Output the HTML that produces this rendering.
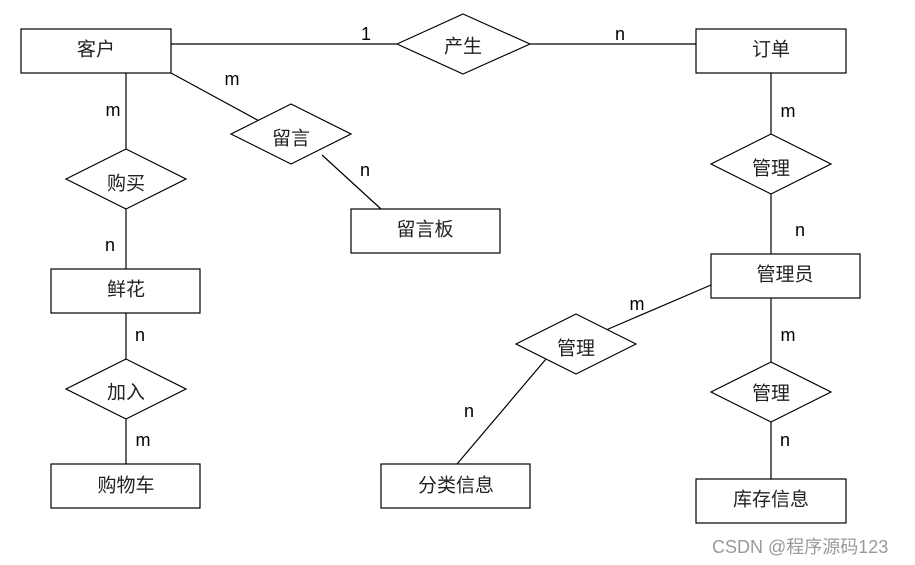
<!DOCTYPE html>
<html><head><meta charset="utf-8"><style>
html,body{margin:0;padding:0;background:#fff;}
svg{display:block;}
text{font-family:"Liberation Sans","Noto Sans CJK SC",sans-serif;fill:#000;}
.c{font-size:19px;text-anchor:middle;dominant-baseline:central;fill:#222;}
.l{font-size:18px;text-anchor:middle;dominant-baseline:central;}
</style></head><body>
<svg width="915" height="565" viewBox="0 0 915 565" xmlns="http://www.w3.org/2000/svg">
<g stroke="#000" stroke-width="1.2" fill="#fff">
<line x1="171" y1="44" x2="397" y2="44"/>
<line x1="530" y1="44" x2="696" y2="44"/>
<line x1="171" y1="73" x2="261" y2="122"/>
<line x1="322" y1="155" x2="381" y2="209"/>
<line x1="126" y1="73" x2="126" y2="149"/>
<line x1="126" y1="209" x2="126" y2="269"/>
<line x1="126" y1="313" x2="126" y2="359"/>
<line x1="126" y1="419" x2="126" y2="464"/>
<line x1="771" y1="73" x2="771" y2="134"/>
<line x1="771" y1="194" x2="771" y2="254"/>
<line x1="771" y1="298" x2="771" y2="362"/>
<line x1="771" y1="422" x2="771" y2="479"/>
<line x1="711" y1="285" x2="606" y2="330"/>
<line x1="546" y1="359" x2="457" y2="464"/>
<rect x="21" y="29" width="150" height="44"/>
<rect x="696" y="29" width="150" height="44"/>
<rect x="351" y="209" width="149" height="44"/>
<rect x="51" y="269" width="149" height="44"/>
<rect x="711" y="254" width="149" height="44"/>
<rect x="51" y="464" width="149" height="44"/>
<rect x="381" y="464" width="149" height="44"/>
<rect x="696" y="479" width="150" height="44"/>
<polygon points="397,44 463,14 530,44 463,74"/>
<polygon points="231,134 291,104 351,134 291,164"/>
<polygon points="66,179 126,149 186,179 126,209"/>
<polygon points="66,389 126,359 186,389 126,419"/>
<polygon points="711,164 771,134 831,164 771,194"/>
<polygon points="516,344 576,314 636,344 576,374"/>
<polygon points="711,392 771,362 831,392 771,422"/>
</g>
<text class="c" x="96" y="50">客户</text>
<text class="c" x="771" y="50">订单</text>
<text class="c" x="463" y="47">产生</text>
<text class="c" x="291" y="139">留言</text>
<text class="c" x="425" y="230">留言板</text>
<text class="c" x="126" y="184">购买</text>
<text class="c" x="126" y="290">鲜花</text>
<text class="c" x="126" y="393">加入</text>
<text class="c" x="126" y="486">购物车</text>
<text class="c" x="771" y="169">管理</text>
<text class="c" x="785" y="275">管理员</text>
<text class="c" x="576" y="349">管理</text>
<text class="c" x="771" y="394">管理</text>
<text class="c" x="456" y="486">分类信息</text>
<text class="c" x="771" y="500">库存信息</text>
<text class="l" x="366" y="34">1</text>
<text class="l" x="620" y="34">n</text>
<text class="l" x="232" y="79">m</text>
<text class="l" x="113" y="110">m</text>
<text class="l" x="365" y="170">n</text>
<text class="l" x="110" y="245">n</text>
<text class="l" x="140" y="335">n</text>
<text class="l" x="143" y="440">m</text>
<text class="l" x="788" y="111">m</text>
<text class="l" x="800" y="230">n</text>
<text class="l" x="637" y="304">m</text>
<text class="l" x="788" y="335">m</text>
<text class="l" x="469" y="411">n</text>
<text class="l" x="785" y="440">n</text>
<text x="712" y="553" style="font-size:18px;fill:#999;">CSDN @程序源码123</text>
</svg>
</body></html>
